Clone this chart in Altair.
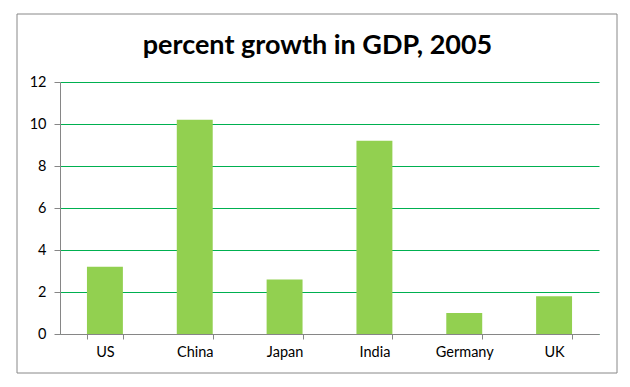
import altair as alt
import pandas as pd

countries = ["US", "China", "Japan", "India", "Germany", "UK"]
growth = [3.2, 10.2, 2.6, 9.2, 1.0, 1.8]
y_ticks = [0, 2, 4, 6, 8, 10, 12]
title_text = "percent growth in GDP, 2005"

df = pd.DataFrame({"country": countries, "growth": growth})
FONT = "Lato"

base = alt.Chart(df)

bars = base.mark_bar(color="#92D050").encode(
    x=alt.X(
        "country:N",
        sort=countries,
        title=None,
        scale=alt.Scale(paddingInner=0.6, paddingOuter=0.3),
        axis=alt.Axis(
            labelAngle=0,
            domainColor="#868686",
            tickColor="#868686",
            tickSize=5,
            tickBand="extent",
            labelPadding=6,
            labelFontSize=14.5,
            labelColor="#000000",
            labelFont=FONT,
            grid=False,
        ),
    ),
    y=alt.Y(
        "growth:Q",
        title=None,
        scale=alt.Scale(domain=[0, 12], nice=False),
        axis=alt.Axis(
            values=y_ticks,
            domainColor="#868686",
            tickColor="#868686",
            tickSize=6,
            labelPadding=8,
            labelFontSize=14.5,
            labelColor="#000000",
            labelFont=FONT,
            grid=True,
            gridColor="#00B050",
            gridOpacity=1,
            gridWidth=1,
        ),
    ),
)

border = alt.Chart(pd.DataFrame({"a": [0]})).mark_rect(
    fill=None, stroke="#888888", strokeWidth=1
).encode(
    x=alt.value(-43), x2=alt.value(557), y=alt.value(-68), y2=alt.value(291)
)

chart = alt.layer(border, bars).properties(
    width=539,
    height=252,
    padding={"left": 52, "top": 74, "right": 23, "bottom": 45},
    autosize=alt.AutoSizeParams(type="none"),
    title=alt.TitleParams(
        title_text,
        font=FONT,
        fontSize=27,
        fontWeight="bold",
        color="#000000",
        anchor="middle",
        dx=-12,
        offset=-46,
    ),
).configure_view(stroke=None)

chart.save("out.html", embed_options={"renderer": "svg", "actions": False})
